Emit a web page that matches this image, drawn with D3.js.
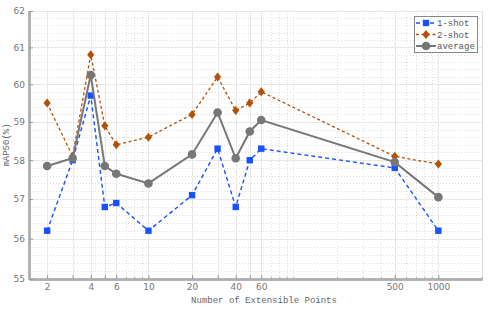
<!DOCTYPE html>
<html>
<head>
<meta charset="utf-8">
<script src="https://cdn.jsdelivr.net/npm/d3@7"></script>
<style>
  body { margin: 0; background: #fff; }
  svg { display: block; }
</style>
</head>
<body>
<svg class="chart"></svg>
<script>
'use strict';

// extensible point counts (x, log scale)
var points = [2, 3, 4, 5, 6, 10, 20, 30, 40, 50, 60, 500, 1000];

var oneShot = [56.2, 58.0, 59.7, 56.8, 56.9, 56.2, 57.1, 58.3, 56.8, 58.0, 58.3, 57.8, 56.2];
var twoShot = [59.5, 58.1, 60.8, 58.9, 58.4, 58.6, 59.2, 60.2, 59.3, 59.5, 59.8, 58.1, 57.9];
var average = [57.85, 58.05, 60.25, 57.85, 57.65, 57.4, 58.15, 59.25, 58.05, 58.75, 59.05, 57.95, 57.05];

var xLabels = [2, 4, 6, 10, 20, 40, 60, 500, 1000];
var xMinor = [7, 8, 9, 70, 80, 90, 100, 200, 300, 400, 600, 700, 800, 900, 2000];
var yTicks = [55, 56, 57, 58, 59, 60, 61, 62];

var width = 491;
var height = 312;
var plotLeft = 29, plotRight = 482, plotTop = 11, plotBottom = 279;

var svg = d3.select('.chart')
    .attr('width', width)
    .attr('height', height);

var x = d3.scaleLog().domain([1.5, 2000]).range([plotLeft, plotRight]);
var y = d3.scaleLog().domain([55, 62]).range([plotBottom, plotTop]);

var yMinor = [];
for (var v = 55; v < 62; v++) {
    [0.2, 0.4, 0.6, 0.8].forEach(function (f) { yMinor.push(+(v + f).toFixed(1)); });
}

function px(d) { return Math.round(x(d)) + .5; }
function py(d) { return Math.round(y(d)) + .5; }

// grid
var grid = svg.append('g');
grid.selectAll('.vminor').data(xMinor).enter().append('line')
    .attr('x1', px).attr('x2', px)
    .attr('y1', plotTop).attr('y2', plotBottom)
    .style('stroke', '#dedede').style('stroke-dasharray', '1,2');
grid.selectAll('.hminor').data(yMinor).enter().append('line')
    .attr('y1', py).attr('y2', py)
    .attr('x1', plotLeft).attr('x2', plotRight)
    .style('stroke', '#dedede').style('stroke-dasharray', '1,2');
grid.selectAll('.vmajor').data(points).enter().append('line')
    .attr('x1', px).attr('x2', px)
    .attr('y1', plotTop).attr('y2', plotBottom)
    .style('stroke', '#e8e8e8');
grid.selectAll('.hmajor').data(yTicks).enter().append('line')
    .attr('y1', py).attr('y2', py)
    .attr('x1', plotLeft).attr('x2', plotRight)
    .style('stroke', '#e8e8e8');
grid.append('line')
    .attr('x1', plotRight + .5).attr('x2', plotRight + .5)
    .attr('y1', plotTop).attr('y2', plotBottom)
    .style('stroke', '#dcdcdc');

// axes
var xAxis = d3.axisBottom(x)
    .tickValues(points)
    .tickSizeInner(-4).tickSizeOuter(0).tickPadding(5)
    .tickFormat(function (d) { return xLabels.indexOf(d) >= 0 ? d : ''; });
var xMinorAxis = d3.axisBottom(x).tickValues(xMinor).tickSizeInner(-2).tickSizeOuter(0).tickFormat('');
var yAxis = d3.axisLeft(y)
    .tickValues(yTicks)
    .tickSizeInner(-4).tickSizeOuter(0).tickPadding(4)
    .tickFormat(d3.format('d'));
var yMinorAxis = d3.axisLeft(y).tickValues(yMinor).tickSizeInner(-2).tickSizeOuter(0).tickFormat('');

function styleAxis(g) {
    g.select('.domain').style('stroke', '#b0b0b0').style('stroke-width', 2.5);
    g.selectAll('.tick line').style('stroke', '#999');
    g.selectAll('.tick text')
        .style('font', '9px "DejaVu Sans", sans-serif')
        .style('fill', '#777');
}

svg.append('g').attr('transform', 'translate(0,' + plotBottom + ')').call(xMinorAxis).call(styleAxis);
svg.append('g').attr('transform', 'translate(0,' + plotBottom + ')').call(xAxis).call(styleAxis);
svg.append('g').attr('transform', 'translate(' + plotLeft + ',0)').call(yMinorAxis).call(styleAxis);
svg.append('g').attr('transform', 'translate(' + plotLeft + ',0)').call(yAxis).call(styleAxis);

// axis titles
svg.append('text')
    .attr('x', 264).attr('y', 303)
    .attr('text-anchor', 'middle')
    .style('font', '9px "Liberation Mono", monospace')
    .style('fill', '#666')
    .text('Number of Extensible Points');
svg.append('text')
    .attr('transform', 'translate(9,' + ((plotTop + plotBottom) / 2) + ') rotate(-90)')
    .attr('text-anchor', 'middle')
    .style('font', '9px "Liberation Mono", monospace')
    .style('fill', '#666')
    .text('mAP50(%)');

// series
var series = [
    {name: '1-shot', values: oneShot, color: 'rgb(25,80,255)', dash: '4,3', width: 1.4, marker: 'square'},
    {name: '2-shot', values: twoShot, color: 'rgb(180,80,8)', dash: '3,2.5', width: 1.3, marker: 'diamond'},
    {name: 'average', values: average, color: '#777', dash: null, width: 2, marker: 'circle'}
];

var line = d3.line()
    .x(function (d) { return x(d[0]); })
    .y(function (d) { return y(d[1]); });

function drawMarker(g, s, cx, cy) {
    if (s.marker === 'square') {
        g.append('rect').attr('x', cx - 3.2).attr('y', cy - 3.2)
            .attr('width', 6.4).attr('height', 6.4).style('fill', s.color);
    } else if (s.marker === 'diamond') {
        g.append('path')
            .attr('d', 'M' + cx + ',' + (cy - 4.5) + 'L' + (cx + 3.6) + ',' + cy +
                'L' + cx + ',' + (cy + 4.5) + 'L' + (cx - 3.6) + ',' + cy + 'Z')
            .style('fill', s.color);
    } else {
        g.append('circle').attr('cx', cx).attr('cy', cy).attr('r', 4.3)
            .style('fill', s.color);
    }
}

series.forEach(function (s) {
    var pts = points.map(function (p, i) { return [p, s.values[i]]; });
    var g = svg.append('g');
    g.append('path')
        .attr('d', line(pts))
        .style('fill', 'none')
        .style('stroke', s.color)
        .style('stroke-width', s.width)
        .style('stroke-dasharray', s.dash);
    pts.forEach(function (d) { drawMarker(g, s, x(d[0]), y(d[1])); });
});

// legend
var legend = svg.append('g').attr('transform', 'translate(414,16)');
legend.append('rect')
    .attr('x', .5).attr('y', .5)
    .attr('width', 63).attr('height', 36)
    .style('fill', '#fff')
    .style('stroke', '#888');
series.forEach(function (s, i) {
    var ly = 7 + i * 11.5;
    var row = legend.append('g');
    row.append('line')
        .attr('x1', 2).attr('x2', 22)
        .attr('y1', ly).attr('y2', ly)
        .style('stroke', s.color)
        .style('stroke-width', s.width)
        .style('stroke-dasharray', s.dash);
    drawMarker(row, s, 12, ly);
    row.append('text')
        .attr('x', 23).attr('y', ly + 3)
        .style('font', '9px "Liberation Mono", monospace')
        .style('fill', '#555')
        .text(s.name);
});
</script>
</body>
</html>
